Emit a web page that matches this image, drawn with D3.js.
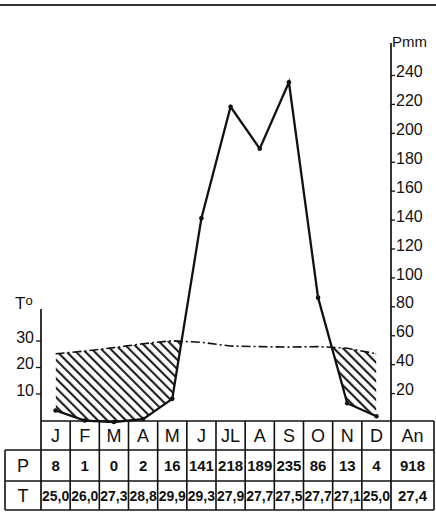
<!DOCTYPE html>
<html><head><meta charset="utf-8">
<script src="https://cdn.jsdelivr.net/npm/d3@7"></script>
<style>body{margin:0;background:#fff}svg{display:block}</style>
</head><body>
<svg id="c" width="436" height="514"></svg>
<script>
const monthLabels = ["J","F","M","A","M","J","JL","A","S","O","N","D"];
const precipitation = [8,1,0,2,16,141,218,189,235,86,13,4];
const temperature = [25.0,26.0,27.3,28.8,29.9,29.3,27.9,27.7,27.5,27.7,27.1,25.0];
const annualLabel = "An";
const annualPrecip = 918;
const annualTemp = 27.4;
const precipTicks = [20,40,60,80,100,120,140,160,180,200,220,240];
const tempTicks = [10,20,30];

const ink = "#111";
const svg = d3.select("#c");
const x = d3.scaleBand().domain(d3.range(12)).range([41,391]);
const cx = i => x(i) + x.bandwidth()/2;
const yP = d3.scaleLinear().domain([0,240]).range([422,75]);
const yT = d3.scaleLinear().domain([0,30]).range([420,340.5]);
const fmtT = v => d3.format(".1f")(v).replace(".", ",");

// top page border
svg.append("line").attr("x1",0).attr("x2",436).attr("y1",5).attr("y2",5)
  .attr("stroke","#333").attr("stroke-width",2);

// hatch pattern
const defs = svg.append("defs");
const pat = defs.append("pattern").attr("id","hatch").attr("patternUnits","userSpaceOnUse")
  .attr("width",6.6).attr("height",10).attr("patternTransform","rotate(-45)");
pat.append("line").attr("x1",3).attr("x2",3).attr("y1",-2).attr("y2",12)
  .attr("stroke",ink).attr("stroke-width",2);

const idx = d3.range(12);
const areaUnderT = d3.area().x(i=>cx(i)).y0(432).y1(i=>yT(temperature[i]));
const areaAboveP = d3.area().x(i=>cx(i)).y0(i=>yP(precipitation[i])).y1(0);
defs.append("clipPath").attr("id","clipT").append("path").attr("d",areaUnderT(idx));
defs.append("clipPath").attr("id","clipP").append("path").attr("d",areaAboveP(idx));
svg.append("g").attr("clip-path","url(#clipT)")
  .append("rect").attr("clip-path","url(#clipP)")
  .attr("x",0).attr("y",0).attr("width",436).attr("height",440).attr("fill","url(#hatch)");

// temperature line (dash-dot)
svg.append("path").attr("d", d3.line().x(i=>cx(i)).y(i=>yT(temperature[i]))(idx))
  .attr("fill","none").attr("stroke",ink).attr("stroke-width",1.6)
  .attr("stroke-dasharray","9,3,2,3");

// precipitation line
svg.append("path").attr("d", d3.line().x(i=>cx(i)).y(i=>yP(precipitation[i]))(idx))
  .attr("fill","none").attr("stroke",ink).attr("stroke-width",2.3);
svg.selectAll("circle.p").data(idx).join("circle").attr("class","p")
  .attr("cx",i=>cx(i)).attr("cy",i=>yP(precipitation[i])).attr("r",2.3).attr("fill",ink);

const axisFont = "Liberation Sans, Arial, sans-serif";

// right axis (precipitation)
const rAxis = svg.append("g").attr("transform","translate(391,0)")
  .call(d3.axisRight(yP).tickValues(precipTicks).tickSize(4).tickPadding(1).tickSizeOuter(0));
rAxis.select(".domain").remove();
rAxis.selectAll("line").attr("stroke",ink).attr("stroke-width",1.3);
rAxis.selectAll("text").attr("dy","0.1em").attr("font-family",axisFont).attr("font-size",16).attr("fill",ink);
svg.append("line").attr("x1",391).attr("x2",391).attr("y1",43).attr("y2",510)
  .attr("stroke",ink).attr("stroke-width",1.7);
svg.append("text").attr("x",392).attr("y",47).attr("font-family",axisFont).attr("font-size",15)
  .attr("fill",ink).text("Pmm");

// left axis (temperature)
const lAxis = svg.append("g").attr("transform","translate(41,0)")
  .call(d3.axisLeft(yT).tickValues(tempTicks).tickSize(5).tickPadding(2).tickSizeOuter(0));
lAxis.select(".domain").remove();
lAxis.selectAll("line").attr("stroke",ink).attr("stroke-width",1.3);
lAxis.selectAll("text").attr("dy","0.1em").attr("font-family",axisFont).attr("font-size",16).attr("fill",ink);
svg.append("line").attr("x1",41).attr("x2",41).attr("y1",309).attr("y2",510)
  .attr("stroke",ink).attr("stroke-width",1.7);
const tl = svg.append("text").attr("x",15).attr("y",309).attr("font-family",axisFont)
  .attr("font-size",17).attr("fill",ink);
tl.append("tspan").text("T");
tl.append("tspan").attr("font-size",13).attr("dy",-4).text("o");

// table
const rows = {top:421, p:450, t:481, bottom:510};
const left = 5, right = 434;
const tbl = svg.append("g").attr("stroke",ink).attr("stroke-width",1.6);
tbl.append("line").attr("x1",41).attr("x2",right).attr("y1",rows.top).attr("y2",rows.top);
[rows.p, rows.t, rows.bottom].forEach(y=>
  tbl.append("line").attr("x1",left).attr("x2",right).attr("y1",y).attr("y2",y));
tbl.append("line").attr("x1",left).attr("x2",left).attr("y1",rows.p).attr("y2",rows.bottom);
tbl.append("line").attr("x1",right).attr("x2",right).attr("y1",rows.top).attr("y2",rows.bottom);
idx.slice(1).forEach(i=>
  tbl.append("line").attr("x1",x(i)).attr("x2",x(i)).attr("y1",rows.top).attr("y2",rows.bottom));

function cellText(txt, xc, y, maxW, opts){
  const t = svg.append("text").attr("x",xc).attr("y",y).attr("text-anchor","middle")
    .attr("font-family",axisFont).attr("font-size",opts.size).attr("font-weight",opts.weight||"normal")
    .attr("fill",ink).text(txt);
  const w = t.node().getComputedTextLength();
  if (w > maxW) t.attr("textLength",maxW).attr("lengthAdjust","spacingAndGlyphs");
  return t;
}
const anX = (391+right)/2, anW = right-391;
monthLabels.forEach((m,i)=>cellText(m, cx(i), 442, x.bandwidth()-3, {size:18}));
cellText(annualLabel, anX, 442, anW-3, {size:18});
precipitation.forEach((v,i)=>cellText(String(v), cx(i), 471, x.bandwidth()-2, {size:15, weight:"bold"}));
cellText(String(annualPrecip), anX, 471, anW-3, {size:15, weight:"bold"});
temperature.forEach((v,i)=>cellText(fmtT(v), cx(i), 501, x.bandwidth()-2, {size:15, weight:"bold"}));
cellText(fmtT(annualTemp), anX, 501, anW-3, {size:15, weight:"bold"});
cellText("P", (left+41)/2, 472, 30, {size:18});
cellText("T", (left+41)/2, 502, 30, {size:18});
</script>
</body></html>
